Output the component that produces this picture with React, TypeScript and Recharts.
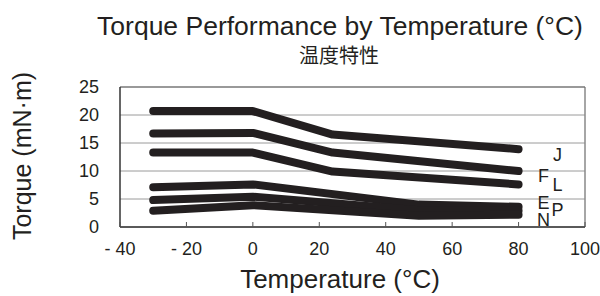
import React from 'react';
import { LineChart, Line, XAxis, YAxis, CartesianGrid, ReferenceLine, LabelList } from 'recharts';

const temps = [-30, 0, 24, 50, 80];
const seriesJ = [20.7, 20.7, 16.5, null, 13.9];
const seriesF = [16.7, 16.8, 13.3, null, 10.0];
const seriesL = [13.3, 13.3, 9.9, null, 7.6];
const seriesE = [7.1, 7.6, null, 4.0, 3.6];
const seriesP = [4.8, 5.4, null, 3.0, 2.9];
const seriesN = [2.9, 3.9, null, 2.0, 2.2];
const seriesNames = ['J', 'F', 'L', 'E', 'P', 'N'];
const xTicks = [-40, -20, 0, 20, 40, 60, 80, 100];
const yTicks = [0, 5, 10, 15, 20, 25];

const allSeries = [seriesJ, seriesF, seriesL, seriesE, seriesP, seriesN];
const data = temps.map((t, i) => {
  const row: any = { t };
  seriesNames.forEach((n, k) => { row[n] = allSeries[k][i]; });
  return row;
});

const labelOffsets: Record<string, [number, number]> = {
  J: [39, 6], F: [25, 5], L: [39, 1], E: [25, -4], P: [39, -1], N: [25, 5],
};

const FONT = '"Liberation Sans", Arial, Helvetica, sans-serif';
const INK = '#231f20';

const XTick = (props: any) => {
  const { x, y, payload } = props;
  const v = payload.value;
  const txt = v < 0 ? `- ${Math.abs(v)}` : `${v}`;
  return (
    <g>
      <line x1={x} y1={y} x2={x} y2={y - 5} stroke="#555" strokeWidth={1} />
      <text x={x} y={y + 28} textAnchor="middle" fontSize={18} fontFamily={FONT} fill={INK}>{txt}</text>
    </g>
  );
};

const makeEndLabel = (name: string) => (props: any) => {
  const { x, y, index } = props;
  if (index !== temps.length - 1) return null;
  const [dx, dy] = labelOffsets[name];
  return (
    <text x={x + dx} y={y + dy} textAnchor="middle" dominantBaseline="central" fontSize={18} fontFamily={FONT} fill={INK}>{name}</text>
  );
};

export default function App() {
  return (
    <div style={{ position: 'absolute', left: 0, top: 0, width: 600, height: 296, background: '#fff' }}>
      <LineChart width={600} height={296} data={data} margin={{ top: 87, right: 15, bottom: 39, left: 0 }}>
        <CartesianGrid vertical={false} stroke="#9a9a9a" strokeWidth={1} />
        <XAxis
          dataKey="t"
          type="number"
          domain={[-40, 100]}
          ticks={xTicks}
          interval={0}
          tickLine={false}
          tickSize={0}
          tickMargin={0}
          tick={<XTick />}
          axisLine={{ stroke: '#333', strokeWidth: 1.5 }}
        />
        <YAxis
          type="number"
          domain={[0, 25]}
          ticks={yTicks}
          interval={0}
          width={120}
          tickLine={false}
          tickSize={0}
          tickMargin={21}
          tick={{ fontSize: 18, fontFamily: FONT, fill: INK }}
          axisLine={{ stroke: '#333', strokeWidth: 1.5 }}
        />
        <ReferenceLine x={100} stroke="#888" strokeWidth={1.5} />
        <ReferenceLine y={25} stroke="#666" strokeWidth={1.2} />
        {seriesNames.map((n) => (
          <Line
            key={n}
            dataKey={n}
            type="linear"
            stroke={INK}
            strokeWidth={8}
            strokeLinecap="round"
            strokeLinejoin="round"
            dot={false}
            activeDot={false}
            connectNulls
            isAnimationActive={false}
          >
            <LabelList dataKey={n} content={makeEndLabel(n)} />
          </Line>
        ))}
      </LineChart>
      <svg width={600} height={296} style={{ position: 'absolute', left: 0, top: 0, pointerEvents: 'none' }}>
        <text x={340} y={35} textAnchor="middle" fontSize={26.5} fontFamily={FONT} fill={INK}>Torque Performance by Temperature (°C)</text>
        <text x={339} y={63} textAnchor="middle" fontSize={20} fontFamily='"Noto Sans CJK JP", sans-serif' fill={INK}>温度特性</text>
        <text x={0} y={0} transform="translate(22,156) rotate(-90)" textAnchor="middle" dominantBaseline="central" fontSize={25} fontFamily={FONT} fill={INK}>Torque (mN·m)</text>
        <text x={340} y={288} textAnchor="middle" fontSize={26} fontFamily={FONT} fill={INK}>Temperature (°C)</text>
      </svg>
    </div>
  );
}
